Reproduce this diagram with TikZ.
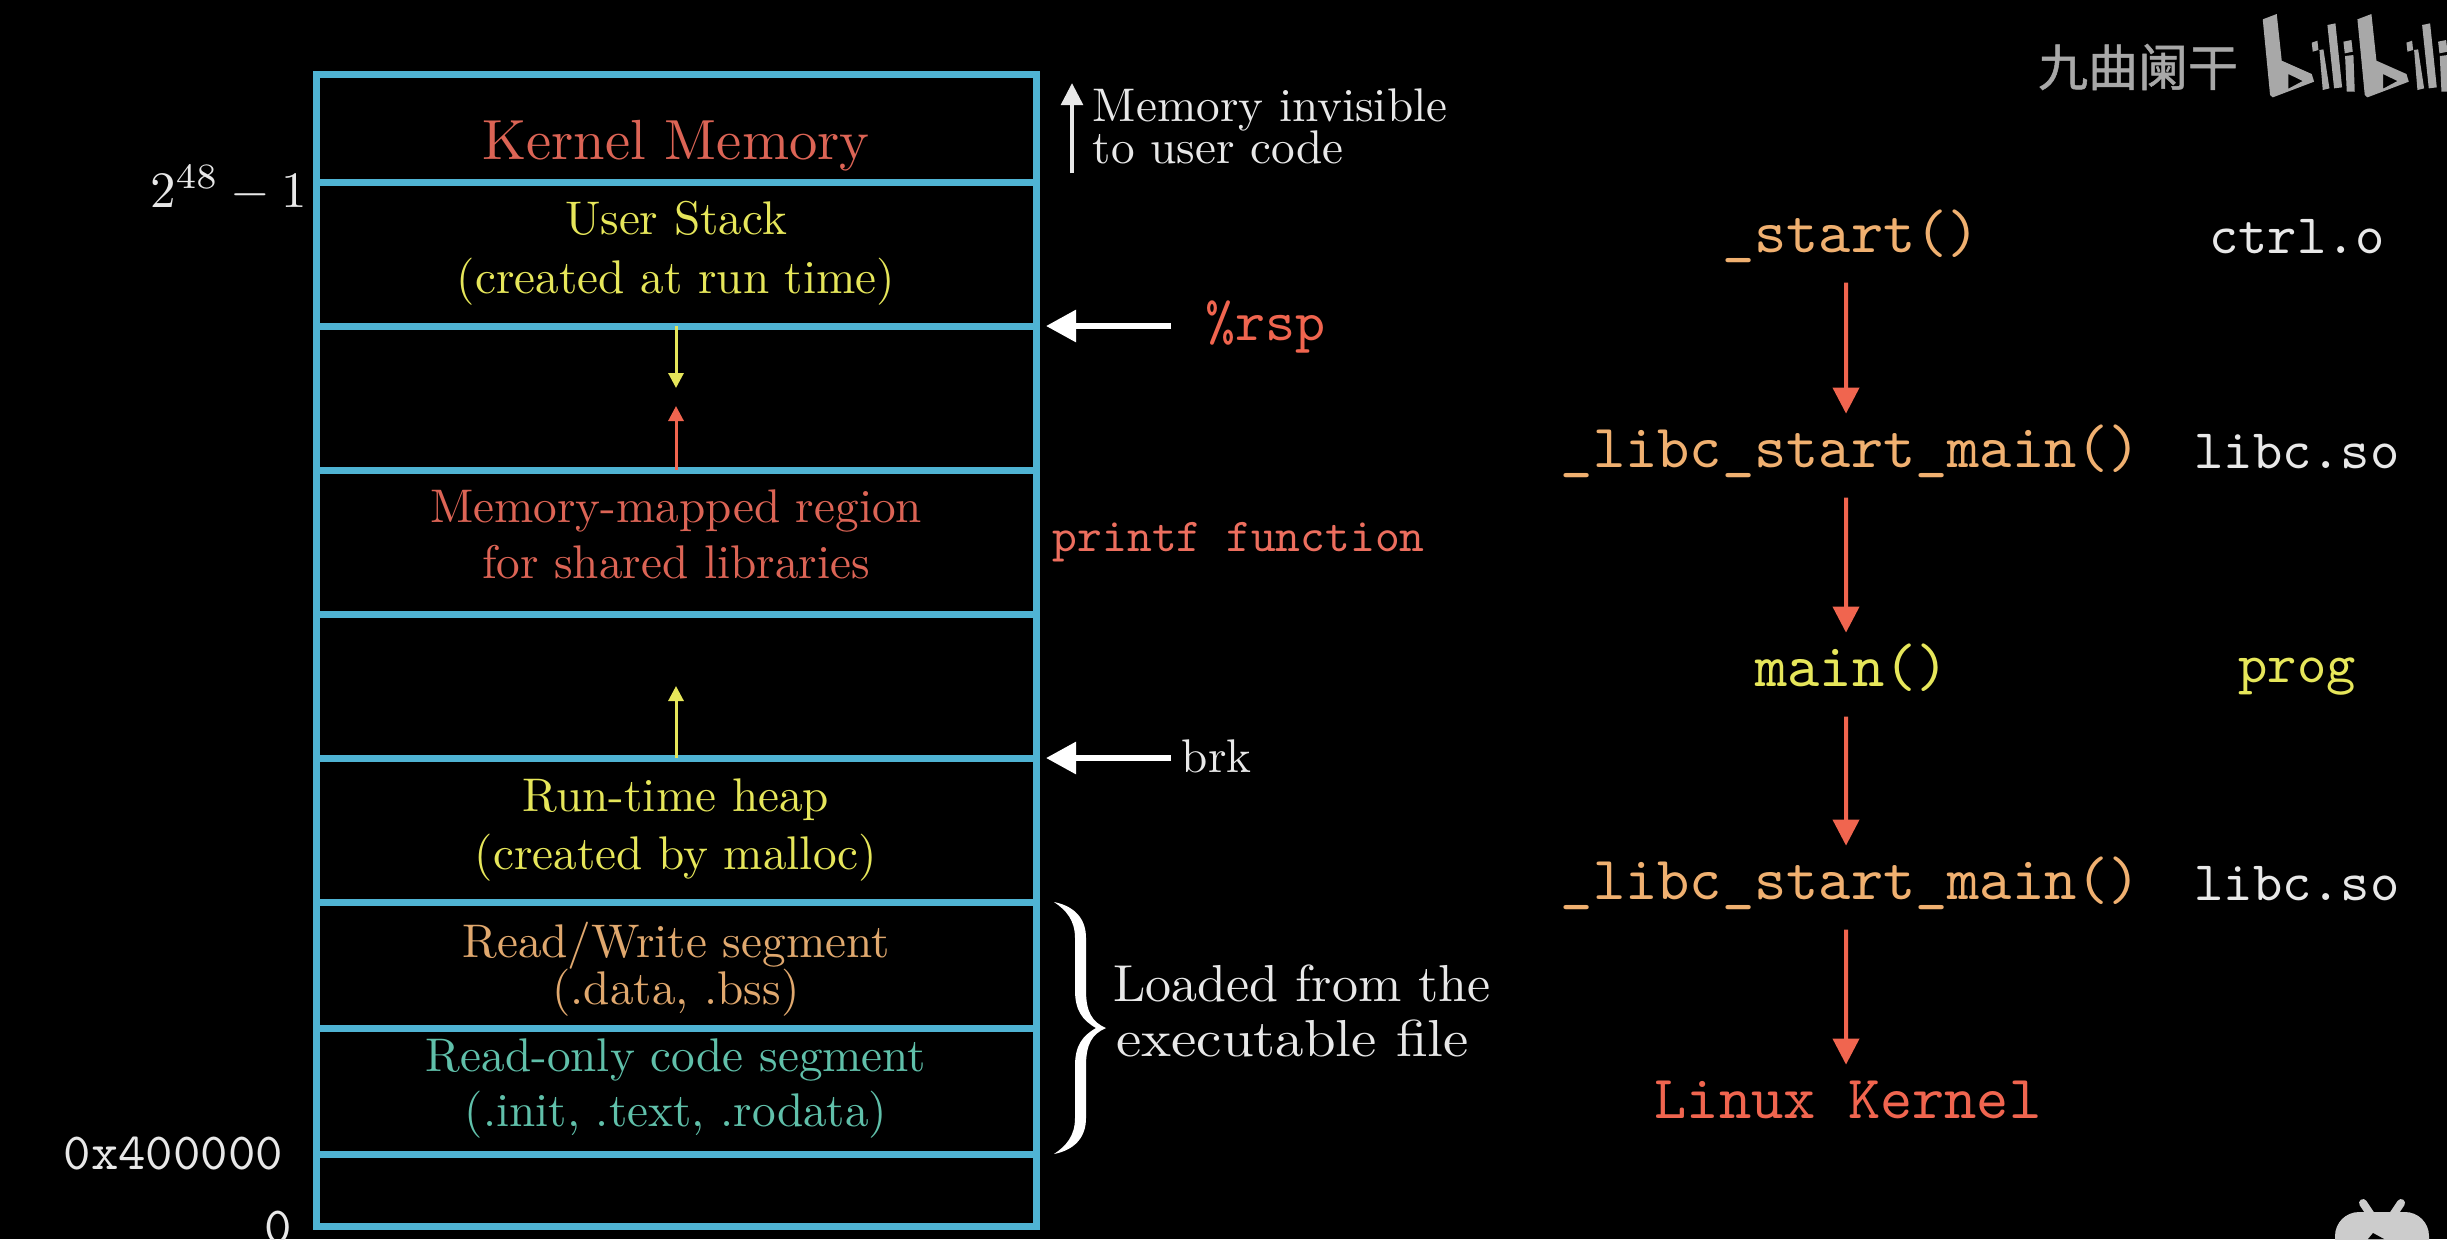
\documentclass[tikz,border=0pt]{standalone}
\usepackage{fontspec}
\usetikzlibrary{arrows.meta}
\newfontfamily\cjkfont[FakeBold=1]{Noto Sans CJK SC}
\definecolor{boxblue}{HTML}{4FB3D3}
\definecolor{redtx}{HTML}{F0654F}
\definecolor{kernred}{HTML}{DC6455}
\definecolor{printred}{HTML}{EC6E5E}
\definecolor{yeltx}{HTML}{E6E65A}
\definecolor{goldtx}{HTML}{E0A86E}
\definecolor{tealtx}{HTML}{60C0AA}
\definecolor{orgtx}{HTML}{F0B070}
\definecolor{softwht}{HTML}{E8E8E8}
\definecolor{logogray}{HTML}{A8A8A8}
\definecolor{tvgray}{HTML}{CCCCCC}
\newcommand{\fsz}[1]{\fontsize{#1}{#1}\selectfont}
\tikzset{
  x=0.5pt,y=-0.5pt,
  rule/.style={draw=boxblue,line width=3.5pt},
  rm/.style={inner sep=0pt,font=\fsz{10},scale=#1/10},
  tt/.style={inner sep=0pt,font=\ttfamily\fsz{10},scale=#1/10},
  whitearrow/.style={line width=3pt,white,-{Triangle[length=15pt,width=15.5pt]}},
  flow/.style={line width=2pt,draw=redtx,shorten <=4pt,transform canvas={xshift=-2.5pt},-{Triangle[length=13pt,width=13pt]}},
  smallarrow/.style={line width=1.5pt,-{Triangle[length=7.5pt,width=7.5pt]}},
  callnode/.style={tt=#1,anchor=base,text height=8.5pt,text depth=3.5pt},
}
\begin{document}
\begin{tikzpicture}
\fill[black] (0,0) rectangle (2447,1239);
\useasboundingbox (0,0) rectangle (2447,1239);
% memory box
\coordinate (tl) at (316,74);
\coordinate (br) at (1036,1226);
\foreach \n/\y in {a/182,b/326,c/470,d/614,e/758,f/902,g/1028,h/1154}{
  \coordinate (l\n) at (316,\y); \coordinate (r\n) at (1036,\y);
  \coordinate (m\n) at (676,\y);
  \draw[rule] (l\n) -- (r\n);
}
\draw[rule] (tl) rectangle (br);
% box labels
\node[rm=28.3,anchor=base,text=kernred] (kernel) at (676,159) {Kernel Memory};
\node[rm=23.6,anchor=base,text=yeltx] (ustack) at (676,234) {User Stack};
\node[rm=23.6,anchor=base,text=yeltx] (ustack2) at (676,293) {(created at run time)};
\node[rm=23.6,anchor=base,text=kernred] (mmap) at (676,522) {Memory-mapped region};
\node[rm=23.6,anchor=base,text=kernred] (mmap2) at (676,578) {for shared libraries};
\node[rm=23.6,anchor=base,text=yeltx] (heap) at (676,811) {Run-time heap};
\node[rm=23.6,anchor=base,text=yeltx] (heap2) at (676,869) {(created by malloc)};
\node[rm=23.6,anchor=base,text=goldtx] (rw) at (676,957) {Read/Write segment};
\node[rm=23.6,anchor=base,text=goldtx] (rw2) at (676,1004) {(.data, .bss)};
\node[rm=23.6,anchor=base,text=tealtx] (ro) at (676,1071) {Read-only code segment};
\node[rm=23.6,anchor=base,text=tealtx] (ro2) at (676,1126) {(.init, .text, .rodata)};
% left labels
\node[rm=25.5,anchor=base east,text=softwht] (top) at (308,207) {$2^{48}-1$};
\node[tt=26.1,anchor=base east,text=softwht] (hex) at (284,1169) {0x400000};
\node[tt=26.1,anchor=base east,text=softwht] (zero) at (293,1243) {0};
% internal arrows
\coordinate (sd) at (676,388); \coordinate (su) at (676,406); \coordinate (hu) at (676,686);
\draw[smallarrow,draw=yeltx] (mb) -- (sd);
\draw[smallarrow,draw=redtx] (mc) -- (su);
\draw[smallarrow,draw=yeltx] (me) -- (hu);
% right annotations
\coordinate (ia) at (1072,173); \coordinate (ib) at (1072,83);
\draw[line width=2.2pt,softwht,-{Triangle[length=11pt,width=10.7pt]}] (ia) -- (ib);
\node[rm=23.6,anchor=base west,text=softwht] (inv) at (1092,121) {Memory invisible};
\node[rm=23.6,anchor=base west,text=softwht] (inv2) at (1092,163) {to user code};
\coordinate (rspa) at (1171,326); \coordinate (rspb) at (1046,326);
\draw[whitearrow] (rspa) -- (rspb);
\node[tt=28.6,anchor=base west,text=redtx] (rsp) at (1204,340) {\%rsp};
\node[tt=23.6,anchor=base west,text=printred] (printf) at (1052,551) {printf function};
\coordinate (brka) at (1171,758); \coordinate (brkb) at (1046,758);
\draw[whitearrow] (brka) -- (brkb);
\node[rm=23.6,anchor=base west,text=softwht] (brk) at (1181,772) {brk};
% brace
\fill[white] (1054,902) .. controls (1074,906) and (1086,918) .. (1086,938)
  -- (1086,990) .. controls (1086,1012) and (1092,1022) .. (1106,1028)
  .. controls (1092,1034) and (1086,1044) .. (1086,1066)
  -- (1086,1118) .. controls (1086,1138) and (1074,1150) .. (1054,1154)
  .. controls (1066,1146) and (1075,1136) .. (1075,1118)
  -- (1075,1066) .. controls (1075,1046) and (1082,1036) .. (1096,1028)
  .. controls (1082,1020) and (1075,1010) .. (1075,990)
  -- (1075,938) .. controls (1075,920) and (1066,910) .. (1054,902) -- cycle;
\node[rm=26,anchor=base west,text=softwht] (load) at (1112,1001) {Loaded from the};
\node[rm=26,xscale=1.095,anchor=base west,text=softwht] (load2) at (1115,1056) {executable file};
% call flow
\node[callnode=30.7,text=orgtx] (start) at (1851,252) {\_start()};
\node[callnode=30.7,text=orgtx] (libca) at (1851,467) {\_libc\_start\_main()};
\node[callnode=30.7,text=yeltx] (mainf) at (1852,686) {main()};
\node[callnode=30.7,text=orgtx] (libcb) at (1851,899) {\_libc\_start\_main()};
\node[callnode=30.7,text=redtx] (linux) at (1848,1118) {Linux Kernel};
\node[tt=27.9,anchor=base,text=softwht] (ctrl) at (2297,253) {ctrl.o};
\node[tt=27.9,anchor=base,text=softwht] (lso) at (2297,468) {libc.so};
\node[tt=27.9,anchor=base,text=yeltx] (prog) at (2297,682) {prog};
\node[tt=27.9,anchor=base,text=softwht] (lso2) at (2297,900) {libc.so};
\draw[flow] (start) -- (libca);
\draw[flow] (libca) -- (libca |- mainf.north);
\draw[flow] (libcb |- mainf.south) -- (libcb);
\draw[flow] (libcb) -- (libcb |- linux.north);
% watermark
\node[inner sep=0pt,anchor=center,text=logogray,font=\cjkfont\fsz{25}] (wm) at (2138,67) {九曲阑干};
\begin{scope}[x=0.1667pt,y=-0.1667pt,xshift=990pt]
\foreach \dx in {0,284}{
\begin{scope}[xshift=\dx*0.1667pt]
\fill[logogray,even odd rule] (848,58) -- (890,42) -- (905,182) -- (995,222) -- (1002,245) -- (878,292) -- (870,285) -- cycle
  (925,222) -- (968,243) -- (925,266) -- cycle;
\fill[logogray] (995,128) -- (1012,122) -- (1015,150) -- (998,155) -- cycle;
\fill[logogray] (1018,150) -- (1030,148) -- (1048,265) -- (1028,270) -- cycle;
\fill[logogray] (1042,75) -- (1066,70) -- (1086,262) -- (1062,265) -- cycle;
\fill[logogray] (1090,125) -- (1114,120) -- (1118,155) -- (1094,160) -- cycle;
\fill[logogray] (1095,168) -- (1120,165) -- (1124,275) -- (1100,275) -- cycle;
\end{scope}}
\end{scope}
% tv icon
\begin{scope}
\clip (2250,1150) rectangle (2447,1239);
\fill[tvgray,rounded corners=12pt] (2335,1212) rectangle (2429,1290);
\draw[tvgray,line width=4pt,line cap=round] (2363,1203) -- (2373,1218);
\draw[tvgray,line width=4pt,line cap=round] (2401,1203) -- (2391,1218);
\fill[black] (2368,1239) -- (2373,1233) -- (2384,1239) -- cycle;
\end{scope}
\end{tikzpicture}
\end{document}
